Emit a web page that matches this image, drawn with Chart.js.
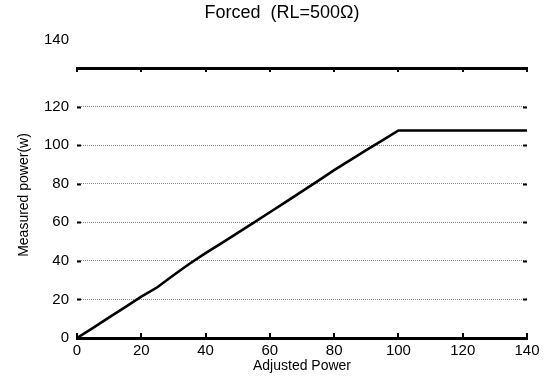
<!DOCTYPE html>
<html>
<head>
<meta charset="utf-8">
<script src="https://cdn.jsdelivr.net/npm/chart.js@4.4.0/dist/chart.umd.min.js"></script>
<style>
  html, body { margin: 0; padding: 0; background: #fff; }
  #wrap { width: 549px; height: 383px; }
</style>
</head>
<body>
<div id="wrap"><canvas id="c" width="549" height="383"></canvas></div>
<script>
// Adjusted power setting vs. measured output power, RL = 500 Ω
const adjustedPower = [0, 5, 10, 15, 20, 25, 30, 35, 40, 45, 50, 55, 60, 65, 70, 75, 80, 85, 90, 95, 100, 140];
const measuredPower = [0, 5.3, 10.7, 16, 21.4, 26.3, 32.5, 38.5, 44, 49.2, 54.5, 59.8, 65.2, 70.6, 76, 81.5, 87, 92.2, 97.4, 102.5, 107.6, 107.6];
const xTicks = [0, 20, 40, 60, 80, 100, 120, 140];
const yTicks = [0, 20, 40, 60, 80, 100, 120, 140];

const chartTitle = 'Forced  (RL=500\u03A9)';
const xTitle = 'Adjusted Power';
const yTitle = 'Measured power(w)';

const FONT = '"Liberation Sans", Arial, Helvetica, sans-serif';

// Inward tick marks, the raised top y label, the chart title and the y axis title
const decor = {
  id: 'decor',
  afterDraw(chart) {
    const { ctx, chartArea: a } = chart;
    const xs = chart.scales.x, ys = chart.scales.y;
    ctx.save();
    ctx.strokeStyle = '#000';
    ctx.lineWidth = 2;
    ctx.beginPath();
    xTicks.forEach(v => {
      const px = Math.round(xs.getPixelForValue(v));
      ctx.moveTo(px, a.bottom); ctx.lineTo(px, a.bottom - 5);
      ctx.moveTo(px, a.top); ctx.lineTo(px, a.top + 4);
    });
    yTicks.forEach(v => {
      if (v === 0 || v === 140) return;
      const py = Math.round(ys.getPixelForValue(v)) + 0.5;
      ctx.moveTo(a.left, py); ctx.lineTo(a.left + 4, py);
      ctx.moveTo(a.right, py); ctx.lineTo(a.right - 4, py);
    });
    ctx.stroke();

    ctx.fillStyle = '#000';
    ctx.font = '15px ' + FONT;
    ctx.textAlign = 'right';
    ctx.textBaseline = 'middle';
    ctx.fillText(String(yTicks[yTicks.length - 1]), a.left - 8, ys.getPixelForValue(140) - 28);

    ctx.font = '18px ' + FONT;
    ctx.textAlign = 'center';
    ctx.fillText(chartTitle, 282, 13);

    ctx.font = '14px ' + FONT;
    ctx.translate(24, 195);
    ctx.rotate(-Math.PI / 2);
    ctx.fillText(yTitle, 0, 0);
    ctx.restore();
  }
};

new Chart(document.getElementById('c'), {
  type: 'line',
  data: {
    datasets: [{
      data: adjustedPower.map((x, i) => ({ x, y: measuredPower[i] })),
      borderColor: '#000',
      borderWidth: 2.6,
      pointRadius: 0,
      tension: 0,
      fill: false,
      xAxisID: 'x',
      yAxisID: 'y'
    }]
  },
  options: {
    responsive: false,
    devicePixelRatio: 1,
    animation: false,
    layout: { padding: { top: 68, right: 22, bottom: 0, left: 0 } },
    plugins: { legend: { display: false }, title: { display: false }, tooltip: { enabled: false } },
    scales: {
      x: {
        type: 'linear', position: 'bottom', min: 0, max: 140,
        afterBuildTicks: s => { s.ticks = xTicks.map(value => ({ value })); },
        afterFit: s => { s.height = 45; },
        grid: { display: false, drawTicks: false },
        border: { display: true, width: 3, color: '#000' },
        ticks: { padding: 4, color: '#000', font: { family: FONT, size: 15 }, maxRotation: 0, autoSkip: false },
        title: { display: true, text: xTitle, color: '#000', font: { family: FONT, size: 14 }, padding: { top: 0, bottom: 8 } }
      },
      x2: {
        type: 'linear', position: 'top', min: 0, max: 140,
        afterFit: s => { s.height = 0; },
        grid: { display: false, drawTicks: false },
        border: { display: true, width: 3, color: '#000' },
        ticks: { display: false }
      },
      y: {
        type: 'linear', position: 'left', min: 0, max: 140,
        afterBuildTicks: s => { s.ticks = yTicks.map(value => ({ value })); },
        afterFit: s => { s.width = 77; },
        grid: { display: true, drawTicks: false, color: '#8a8a8a', lineWidth: 1 },
        border: { display: false, dash: [1, 1] },
        ticks: {
          padding: 8, color: '#000', font: { family: FONT, size: 15 },
          callback: v => (v === 140 ? '' : v)
        }
      }
    }
  },
  plugins: [decor]
});
</script>
</body>
</html>
